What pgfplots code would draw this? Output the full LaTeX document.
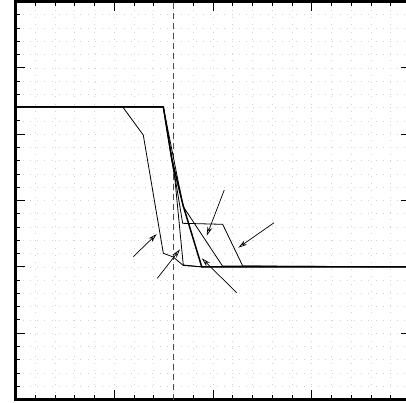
\documentclass[border=0pt]{standalone}
\usepackage{pgfplots}
\pgfplotsset{compat=1.18}
\usetikzlibrary{arrows.meta}
\begin{document}
\begin{tikzpicture}
\useasboundingbox (-15.5pt,-2.5pt) rectangle (390.5pt,399.5pt);
\clip (-15.5pt,-2.5pt) rectangle (390.5pt,399.5pt);
\begin{axis}[
  at={(0pt,0pt)}, anchor=origin,
  scale only axis, width=395pt, height=398pt,
  xmin=0, xmax=4, ymin=0, ymax=6,
  xtick={0,1,2,3,4}, ytick={0,1,2,3,4,5,6},
  minor tick num=4,
  xticklabels={}, yticklabels={},
  tick align=inside,
  major tick length=10pt, minor tick length=5pt,
  every tick/.style={black, line width=0.9pt},
  axis line style={line width=2.6pt},
  grid=both,
  grid style={gray!35, line width=0.6pt, dash pattern=on 0.7pt off 6.5pt},
  major grid style={gray!35, line width=0.6pt, dash pattern=on 0.7pt off 6.5pt},
  clip=false,
]
% dashed vertical line
\addplot[gray!60!black, line width=0.9pt, dash pattern=on 6pt off 4pt] coordinates {(1.602,0) (1.602,6)};
% thin curves
\addplot[black, line width=0.8pt] coordinates {(0,4.41) (1.086,4.41) (1.294,3.987) (1.497,2.204) (1.598,2.148) (1.699,2.02) (1.886,2.0) (4,2.0)};
\addplot[black, line width=0.8pt] coordinates {(0,4.41) (1.497,4.41) (1.565,3.761) (1.615,3.309) (1.699,2.028) (1.886,2.0) (4,2.0)};
\addplot[black, line width=0.8pt] coordinates {(0,4.41) (1.497,4.41) (1.693,2.656) (2.098,2.641) (2.301,2.013) (4,2.0)};
\addplot[black, line width=0.8pt] coordinates {(0,4.41) (1.497,4.41) (1.699,2.907) (2.096,2.013) (4,2.0)};
% thick curve
\addplot[black, line width=1.5pt] coordinates {(0,4.41) (1.497,4.41) (1.585,3.611) (1.696,2.932) (1.886,2.0) (4,2.0)};
% arrows
\addplot[black, line width=0.7pt, -{Stealth[open, length=9pt, width=5pt]}] coordinates {(1.193,2.153) (1.430,2.495)};
\addplot[black, line width=0.7pt, -{Stealth[open, length=9pt, width=5pt]}] coordinates {(1.436,1.827) (1.666,2.264)};
\addplot[black, line width=0.7pt, -{Stealth[open, length=9pt, width=5pt]}] coordinates {(2.114,3.158) (1.936,2.469)};
\addplot[black, line width=0.7pt, -{Stealth[open, length=9pt, width=5pt]}] coordinates {(2.618,2.665) (2.256,2.288)};
\addplot[black, line width=0.7pt, -{Stealth[open, length=9pt, width=5pt]}] coordinates {(2.240,1.610) (1.886,2.129)};
\end{axis}
\end{tikzpicture}
\end{document}
